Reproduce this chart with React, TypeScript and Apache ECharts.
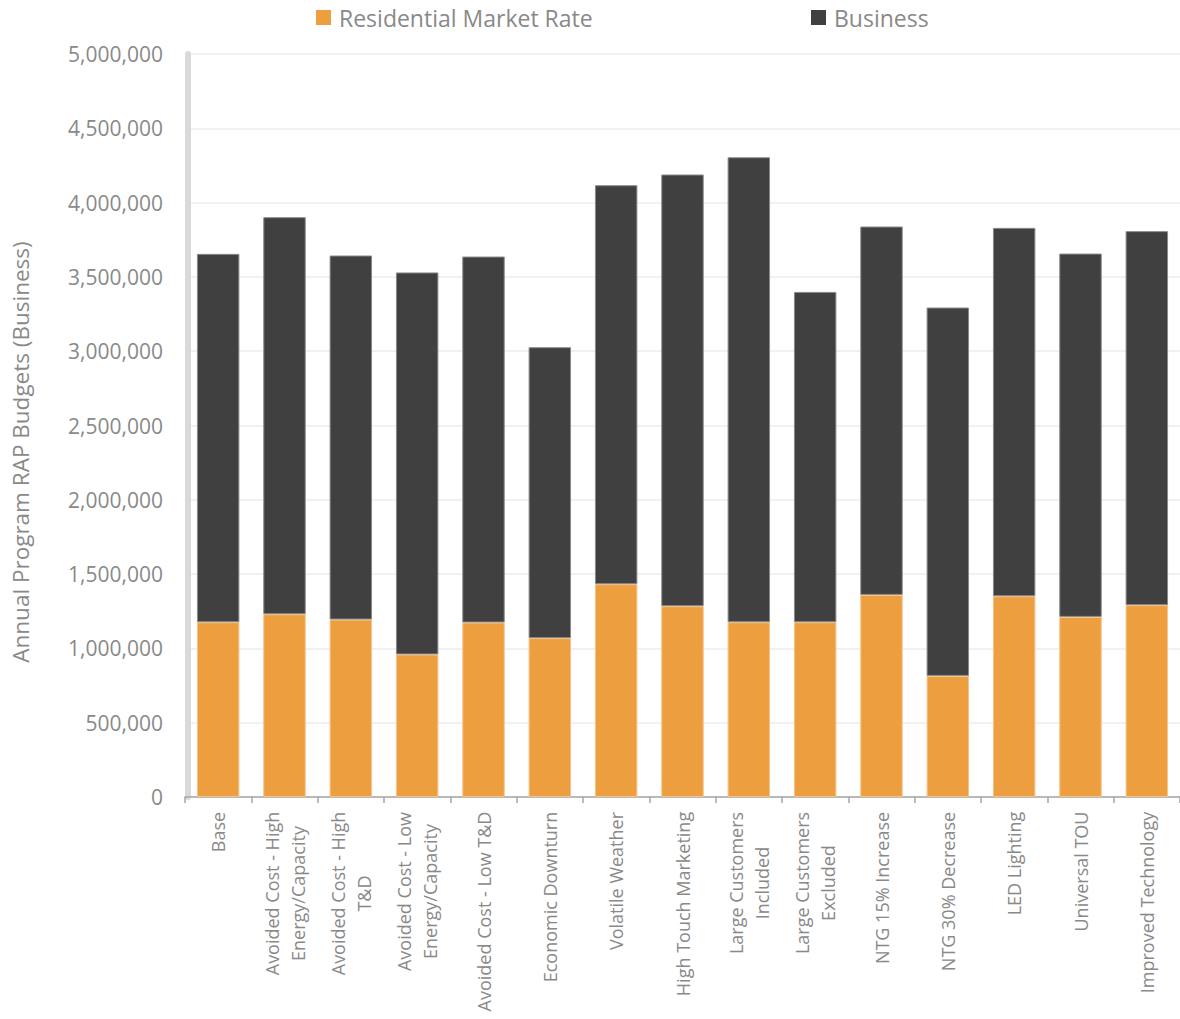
import React, { useEffect, useRef } from "react";
import * as echarts from "echarts";

const categories = [
  "Base",
  "Avoided Cost - High\nEnergy/Capacity",
  "Avoided Cost - High\nT&D",
  "Avoided Cost - Low\nEnergy/Capacity",
  "Avoided Cost - Low T&D",
  "Economic Downturn",
  "Volatile Weather",
  "High Touch Marketing",
  "Large Customers\nIncluded",
  "Large Customers\nExcluded",
  "NTG 15% Increase",
  "NTG 30% Decrease",
  "LED Lighting",
  "Universal TOU",
  "Improved Technology",
];

const residentialMarketRate = [
  1176000, 1230000, 1194000, 959000, 1174000, 1069000, 1432000, 1284000,
  1176000, 1176000, 1360000, 815000, 1351000, 1212000, 1291000,
];

const business = [
  2479000, 2672000, 2450000, 2571000, 2463000, 1958000, 2685000, 2905000,
  3129000, 2223000, 2479000, 2479000, 2479000, 2445000, 2517000,
];

const seriesNames = ["Residential Market Rate", "Business"];
const yAxisTitle = "Annual Program RAP Budgets (Business)";
const yMin = 0;
const yMax = 5000000;
const yInterval = 500000;

const FONT = "'Open Sans', 'DejaVu Sans', sans-serif";
const GRAY = "#898989";
const X_FONT = 18;

function measure(text: string, size: number): number {
  const c = document.createElement("canvas");
  const ctx = c.getContext("2d");
  if (!ctx) return text.length * size * 0.55;
  ctx.font = `${size}px "Open Sans"`;
  return ctx.measureText(text).width;
}

export default function App() {
  const ref = useRef<HTMLDivElement>(null);

  useEffect(() => {
    if (!ref.current) return;
    const chart = echarts.init(ref.current, undefined, { renderer: "svg" });

    const rich: Record<string, any> = {};
    categories.forEach((c, i) => {
      const w = Math.max(...c.split("\n").map((l) => measure(l, X_FONT)));
      rich["c" + i] = {
        width: Math.ceil(w) + 1,
        align: "center",
        fontSize: X_FONT,
        lineHeight: 26,
        color: GRAY,
        fontFamily: FONT,
      };
    });

    const legendBase = {
      top: 6,
      padding: 0,
      itemWidth: 15,
      itemHeight: 15,
      icon: "rect",
      itemStyle: { borderWidth: 0 },
      textStyle: { fontSize: 23, color: GRAY, fontFamily: FONT, padding: [0, 0, 0, 3] },
    };

    chart.setOption({
      animation: false,
      textStyle: { fontFamily: FONT },
      legend: [
        { ...legendBase, data: [seriesNames[0]], left: 316 },
        { ...legendBase, data: [seriesNames[1]], left: 811 },
      ],
      grid: { left: 185, top: 54, width: 999, height: 743, containLabel: false },
      graphic: [
        {
          type: "text",
          x: 20,
          y: 452,
          rotation: Math.PI / 2,
          style: {
            text: yAxisTitle,
            fontSize: 22.5,
            fontFamily: FONT,
            fill: GRAY,
            align: "center",
            verticalAlign: "middle",
          },
        },
      ],
      xAxis: {
        type: "category",
        data: categories,
        axisLine: { show: true, lineStyle: { color: "#a6a6a6", width: 1.5 } },
        axisTick: { show: true, length: 6, lineStyle: { color: "#a6a6a6", width: 1.5 } },
        axisLabel: {
          interval: 0,
          rotate: 90,
          margin: 14,
          formatter: (v: string, i: number) =>
            v
              .split("\n")
              .map((l) => `{c${i}|${l}}`)
              .join("\n"),
          rich,
        },
        splitLine: { show: false },
      },
      yAxis: {
        type: "value",
        min: yMin,
        max: yMax,
        interval: yInterval,
        offset: -3,
        axisLine: { show: true, lineStyle: { color: "#d9d9d9", width: 6 } },
        axisTick: { show: false },
        axisLabel: {
          margin: 25,
          fontSize: 21,
          color: GRAY,
          fontFamily: FONT,
          formatter: (v: number) => v.toLocaleString("en-US"),
        },
        splitLine: { show: true, lineStyle: { color: "#ececec", width: 1.5 } },
      },
      series: [
        {
          name: seriesNames[0],
          type: "bar",
          stack: "total",
          data: residentialMarketRate,
          barCategoryGap: "36%",
          itemStyle: { color: "#ED9E3F", borderColor: "#F5C48A", borderWidth: 1 },
        },
        {
          name: seriesNames[1],
          type: "bar",
          stack: "total",
          data: business,
          barCategoryGap: "36%",
          itemStyle: { color: "#404040", borderColor: "#8a8a8a", borderWidth: 1 },
        },
      ],
    });

    return () => chart.dispose();
  }, []);

  return (
    <div
      ref={ref}
      style={{ position: "absolute", left: 0, top: 0, width: 1180, height: 1019, background: "#fff" }}
    />
  );
}
